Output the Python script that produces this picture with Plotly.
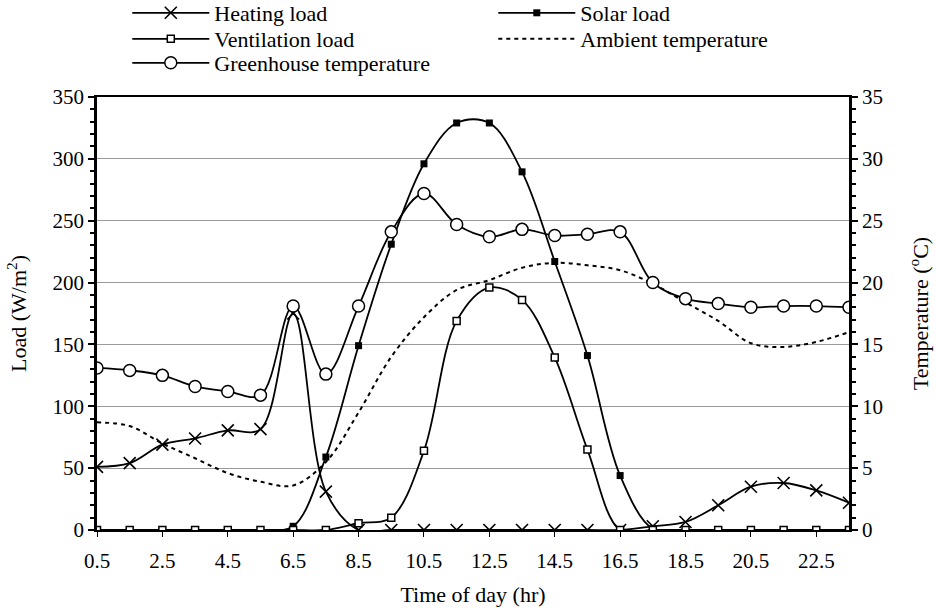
import plotly.graph_objects as go

hours = [h + 0.5 for h in range(24)]
tick_vals = [0.5 + 2 * i for i in range(12)]
tick_text = [f"{v:.1f}" for v in tick_vals]

heating_load = [51, 54, 69, 74, 80.5, 81.5, 175, 31, 0, 0, 0, 0, 0, 0, 0, 0, 0, 3, 6.5, 20, 35, 38, 32, 22]
solar_load = [0, 0, 0, 0, 0, 0, 3, 59, 149, 231, 296, 329, 329, 289.5, 217, 141, 44, 1, 0, 0, 0, 0, 0, 0]
ventilation_load = [0, 0, 0, 0, 0, 0, 0, 0, 5.5, 10, 64, 169, 196, 186, 139.5, 65, 0, 0, 0, 0, 0, 0, 0, 0]
ambient_temp = [8.7, 8.4, 7.0, 5.8, 4.6, 3.9, 3.6, 5.5, 9.5, 14.0, 17.2, 19.4, 20.2, 21.2, 21.6, 21.4, 21.0, 19.9, 18.4, 16.9, 15.1, 14.8, 15.2, 16.0]
greenhouse_temp = [13.1, 12.9, 12.5, 11.6, 11.2, 10.9, 18.1, 12.6, 18.1, 24.1, 27.2, 24.7, 23.7, 24.3, 23.8, 23.9, 24.1, 20.0, 18.7, 18.3, 18.0, 18.1, 18.1, 18.0]

FONT = "Liberation Serif"
LW = 1.8

fig = go.Figure()
fig.add_trace(go.Scatter(
    x=hours, y=heating_load, name="Heating load", mode="lines+markers",
    line=dict(color="black", width=LW, shape="spline"),
    marker=dict(symbol="x-thin-open", size=12, color="black", line=dict(color="black", width=1.6)),
    legend="legend"))
fig.add_trace(go.Scatter(
    x=hours, y=solar_load, name="Solar load", mode="lines+markers",
    line=dict(color="black", width=LW, shape="spline"),
    marker=dict(symbol="square", size=7, color="black"),
    legend="legend"))
fig.add_trace(go.Scatter(
    x=hours, y=ventilation_load, name="Ventilation load", mode="lines+markers",
    line=dict(color="black", width=LW, shape="spline"),
    marker=dict(symbol="square", size=7, color="white", line=dict(color="black", width=1.5)),
    legend="legend2"))
fig.add_trace(go.Scatter(
    x=hours, y=ambient_temp, name="Ambient temperature", mode="lines", yaxis="y2",
    line=dict(color="black", width=2, shape="spline", dash="4px,4px"),
    legend="legend2"))
fig.add_trace(go.Scatter(
    x=hours, y=greenhouse_temp, name="Greenhouse temperature", mode="lines+markers", yaxis="y2",
    line=dict(color="black", width=LW, shape="spline"),
    marker=dict(symbol="circle", size=12, color="white", line=dict(color="black", width=1.5)),
    legend="legend3"))

legend_common = dict(orientation="h", xref="container", yref="container", x=0.136, xanchor="left",
                     yanchor="middle", font=dict(family=FONT, size=22, color="black"),
                     entrywidth=274, entrywidthmode="pixels", bgcolor="rgba(0,0,0,0)", itemwidth=77)

fig.update_layout(
    width=936, height=610,
    margin=dict(l=97, r=87, t=97, b=80, autoexpand=False),
    paper_bgcolor="white", plot_bgcolor="white",
    font=dict(family=FONT, size=21, color="black"),
    showlegend=True,
    legend=dict(**legend_common, y=1 - 13 / 610),
    legend2=dict(**legend_common, y=1 - 39 / 610),
    legend3=dict(**legend_common, y=1 - 63 / 610),
    xaxis=dict(
        range=[0.5, 23.5], tickvals=tick_vals, ticktext=tick_text,
        showgrid=False, zeroline=False, automargin=False,
        showline=True, linecolor="black", linewidth=2, mirror=True,
        ticks="outside", ticklen=5, tickcolor="black", tickwidth=1,
        ticklabelstandoff=6,
        title=dict(text="Time of day (hr)", font=dict(size=22), standoff=14),
        tickfont=dict(size=21),
    ),
    yaxis=dict(
        range=[0, 350], dtick=50, showgrid=True, gridcolor="#999999", gridwidth=1,
        zeroline=False, automargin=False, showline=True, linecolor="black", linewidth=2.5,
        ticks="outside", ticklen=6, tickcolor="black", tickwidth=2,
        minor=dict(dtick=10, ticks="outside", ticklen=4, tickcolor="black", tickwidth=2, showgrid=False),
        title=dict(text="Load (W/m<sup>2</sup>)", font=dict(size=22), standoff=20),
        tickfont=dict(size=21),
    ),
    yaxis2=dict(
        range=[0, 35], dtick=5, overlaying="y", side="right", showgrid=False,
        zeroline=False, automargin=False, showline=True, linecolor="black", linewidth=2.5,
        ticks="outside", ticklen=6, tickcolor="black", tickwidth=2,
        minor=dict(dtick=1, ticks="outside", ticklen=4, tickcolor="black", tickwidth=2, showgrid=False),
        title=dict(text="Temperature (<sup>o</sup>C)", font=dict(size=22), standoff=31),
        tickfont=dict(size=21),
    ),
)

fig.write_html("out.html")
